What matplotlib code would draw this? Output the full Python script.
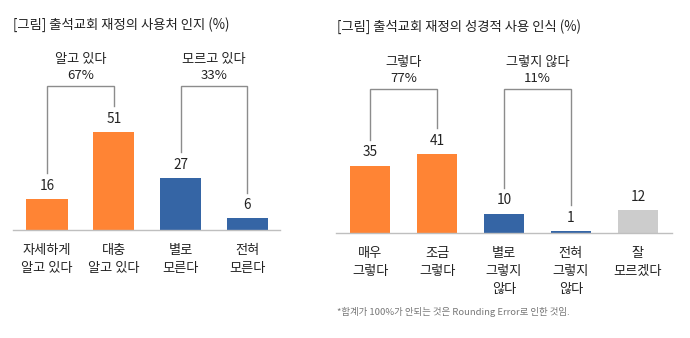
import matplotlib
matplotlib.use("Agg")
import matplotlib.pyplot as plt

plt.rcParams['font.family'] = ['Noto Sans CJK KR', 'DejaVu Sans']

# left chart: 출석교회 재정의 사용처 인지
left_title = '[그림] 출석교회 재정의 사용처 인지 (%)'
left_cats = ['자세하게\n알고 있다', '대충\n알고 있다', '별로\n모른다', '전혀\n모른다']
left_vals = [16, 51, 27, 6]
left_groups = [('알고 있다', '67%', 0, 1), ('모르고 있다', '33%', 2, 3)]

# right chart: 출석교회 재정의 성경적 사용 인식
right_title = '[그림] 출석교회 재정의 성경적 사용 인식 (%)'
right_cats = ['매우\n그렇다', '조금\n그렇다', '별로\n그렇지\n않다', '전혀\n그렇지\n않다', '잘\n모르겠다']
right_vals = [35, 41, 10, 1, 12]
right_groups = [('그렇다', '77%', 0, 1), ('그렇지 않다', '11%', 2, 3)]

footnote = '*합계가 100%가 안되는 것은 Rounding Error로 인한 것임.'

ORANGE = '#FF8434'
BLUE = '#3565A5'
GREY = '#CCCCCC'

W, H = 690, 338
fig = plt.figure(figsize=(W / 100, H / 100), dpi=100)

PX_PER_UNIT = 1.92
TOP = 30  # px from top where axes ends


def make_ax(x0, x1, base):
    # axes box given in pixels (from top-left)
    h = base - TOP
    ax = fig.add_axes([x0 / W, (H - base) / H, (x1 - x0) / W, h / H])
    ax.set_ylim(0, h / PX_PER_UNIT)
    for s in ['top', 'right', 'left']:
        ax.spines[s].set_visible(False)
    ax.spines['bottom'].set_color('#BFBFBF')
    ax.spines['bottom'].set_linewidth(1)
    ax.set_yticks([])
    ax.tick_params(axis='x', length=0, pad=10)
    return ax


def draw(ax, cats, vals, colors, groups, width):
    xs = list(range(len(vals)))
    ax.bar(xs, vals, width=width, color=colors)
    for x, v in zip(xs, vals):
        ax.text(x, v + 7, str(v), ha='center', va='center', fontsize=9.8, color='#222222')
    ax.set_xticks(xs)
    ax.set_xticklabels(cats, fontsize=9.5, color='#222222', linespacing=1.5)
    top = 75
    for name, pct, a, b in groups:
        ax.plot([a, a, b, b], [vals[a] + 13.5, top, top, vals[b] + 13.5],
                color='#8C8C8C', lw=1, solid_joinstyle='miter')
        ax.text((a + b) / 2, 89, name, ha='center', va='center', fontsize=9.5, color='#222222')
        ax.text((a + b) / 2, 80.5, pct, ha='center', va='center', fontsize=9.5, color='#222222')


axL = make_ax(13, 280, 230)
axL.set_xlim(-0.51, 3.49)
draw(axL, left_cats, left_vals, [ORANGE, ORANGE, BLUE, BLUE], left_groups, 0.62)

axR = make_ax(336, 672, 233)
axR.set_xlim(-0.51, 4.51)
draw(axR, right_cats, right_vals, [ORANGE, ORANGE, BLUE, BLUE, GREY], right_groups, 0.59)

fig.text(13 / W, 1 - 25 / H, left_title, ha='left', va='center', fontsize=9.6, color='#222222')
fig.text(337 / W, 1 - 27 / H, right_title, ha='left', va='center', fontsize=9.6, color='#222222')
fig.text(337 / W, 1 - 312 / H, footnote, ha='left', va='center', fontsize=6.8, color='#777777')

fig.savefig('out.png', dpi=100)
